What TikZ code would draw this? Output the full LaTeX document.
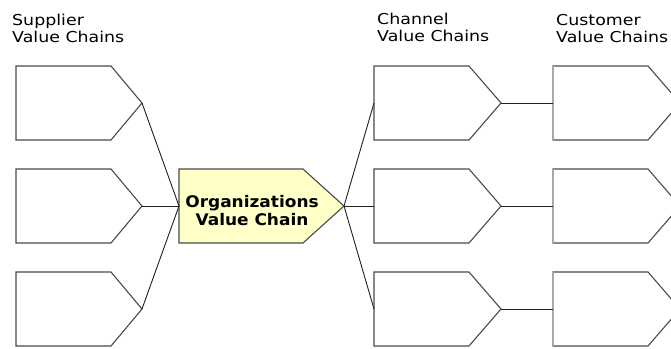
\documentclass[tikz,border=0pt]{standalone}
\usepackage{fontspec}
\setmainfont{DejaVu Sans}
\newfontfamily\lblfont[FakeStretch=1.16]{DejaVu Sans}
\newfontfamily\orgfont[FakeStretch=1.06]{DejaVu Sans Bold}
\definecolor{boxgray}{HTML}{4A4A4A}
\definecolor{linkgray}{HTML}{202020}
\definecolor{orgfill}{HTML}{FFFFC8}
\definecolor{custedge}{HTML}{A8A8A8}
\newcommand\chainbox[6][]{%
  \draw[box,#1] (#3,#6-37) -- (#4,#6-37) -- (#5,#6) -- (#4,#6+37) -- (#3,#6+37) -- cycle;
  \coordinate (#2-w) at (#3,#6);
  \coordinate (#2-e) at (#5,#6);
  \coordinate (#2-nw) at (#3,#6-37);
  \coordinate (#2-sw) at (#3,#6+37);}
\begin{document}
\begin{tikzpicture}[x=1pt,y=-1pt,
  box/.style={draw=boxgray, line width=1.1pt, line join=miter},
  link/.style={draw=linkgray, line width=0.9pt},
  cedge/.style={draw=custedge, line width=1.8pt},
  lbl/.style={anchor=north west, align=left, inner sep=0pt, font=\lblfont\fontsize{15}{17}\selectfont},
  orglbl/.style={align=center, inner sep=0pt, font=\orgfont\fontsize{16}{18}\selectfont}]
\useasboundingbox (0,0) rectangle (671,348);
\clip (0,0) rectangle (671,348);
% labels
\node[lbl] (supl) at (12,14) {Supplier\\Value Chains};
\node[lbl] (chanl) at (377,13) {Channel\\Value Chains};
\node[lbl] (custl) at (556,14) {Customer\\Value Chains};
% supplier boxes
\chainbox{s1}{16}{111}{142}{103}
\chainbox{s2}{16}{111}{142}{206}
\chainbox{s3}{16}{111}{142}{309}
% organization
\chainbox[fill=orgfill]{org}{179}{303}{344}{206}
\node[orglbl] (orgtext) at (252,211) {Organizations\\Value Chain};
% channel boxes
\chainbox{c1}{374}{469}{501}{103}
\chainbox{c2}{374}{469}{501}{206}
\chainbox{c3}{374}{469}{501}{309}
% customer boxes
\chainbox{k1}{553}{648}{680}{103}
\chainbox{k2}{553}{648}{680}{206}
\chainbox{k3}{553}{648}{680}{309}
\draw[cedge] (k1-nw) -- (k1-sw);
\draw[cedge] (k2-nw) -- (k2-sw);
\draw[cedge] (k3-nw) -- (k3-sw);
% connectors
\draw[link] (s1-e) -- (org-w);
\draw[link] (s2-e) -- (org-w);
\draw[link] (s3-e) -- (org-w);
\draw[link] (org-e) -- (c1-w);
\draw[link] (org-e) -- (c2-w);
\draw[link] (org-e) -- (c3-w);
\draw[link] (c1-e) -- (k1-w);
\draw[link] (c2-e) -- (k2-w);
\draw[link] (c3-e) -- (k3-w);
\end{tikzpicture}
\end{document}
